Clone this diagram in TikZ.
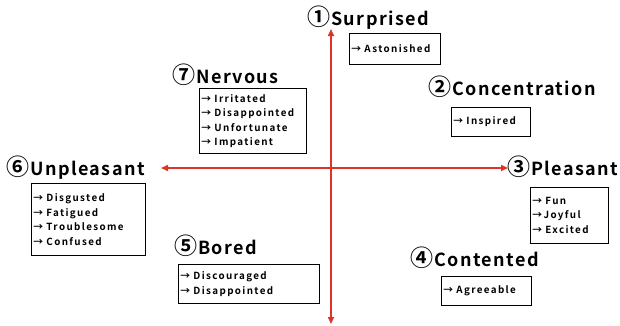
\documentclass[tikz,border=0pt]{standalone}
\usepackage{fontspec}
\usetikzlibrary{arrows.meta}
\newfontfamily\titlefont[LetterSpace=8]{Noto Sans CJK JP Bold}
\newfontfamily\itemfont[LetterSpace=14]{Noto Sans CJK JP Bold}
\newfontfamily\numfont{Noto Sans CJK JP Bold}
\newcommand\qnum[1]{{\numfont\fontsize{23}{20}\selectfont#1}\kern1pt}
\definecolor{axisred}{RGB}{222,52,40}
\tikzset{
  emotion/.style={anchor=base west, inner sep=0pt, font=\titlefont\fontsize{18}{20}\selectfont},
  itembox/.style 2 args={draw, thick, anchor=north west, align=left,
    inner xsep=2pt, inner ysep=0pt, text width=#1-4pt, minimum height=#2,
    font=\itemfont\fontsize{9.8}{14.5}\selectfont},
  axis/.style={draw=axisred, line width=1.6pt, {Triangle[length=7pt,width=6pt]}-{Triangle[length=7pt,width=6pt]}}
}
\begin{document}
\begin{tikzpicture}[x=1pt, y=-1pt]
  \useasboundingbox (0,0) rectangle (620,325);
  % axes
  \coordinate (top) at (331,29);
  \coordinate (bottom) at (331,324);
  \coordinate (left) at (161,168);
  \coordinate (right) at (508,168);
  \draw[axis] (top) -- (bottom);
  \draw[axis] (left) -- (right);
  % quadrant labels
  \node[emotion] (surprised) at (307,25) {\qnum{①}Surprised};
  \node[itembox={91pt}{31pt}] (surprisedList) at (349,33) {→ Astonished};
  \node[emotion] (concentration) at (428,95) {\qnum{②}Concentration};
  \node[itembox={79pt}{29pt}] (concentrationList) at (451,107) {→ Inspired};
  \node[emotion] (pleasant) at (507,175) {\qnum{③}Pleasant};
  \node[itembox={78pt}{56pt}] (pleasantList) at (530,187) {→ Fun\\→Joyful\\→ Excited};
  \node[emotion] (contented) at (410,266) {\qnum{④}Contented};
  \node[itembox={90pt}{29pt}] (contentedList) at (441,276) {→ Agreeable};
  \node[emotion] (bored) at (174,254) {\qnum{⑤}Bored};
  \node[itembox={141pt}{39pt}] (boredList) at (178,264) {→ Discouraged\\→ Disappointed};
  \node[emotion] (unpleasant) at (6,175) {\qnum{⑥}Unpleasant};
  \node[itembox={114pt}{72pt}] (unpleasantList) at (31,183)
    {→ Disgusted\\→ Fatigued\\→ Troublesome\\→ Confused};
  \node[emotion] (nervous) at (172,83) {\qnum{⑦}Nervous};
  \node[itembox={107pt}{65pt}] (nervousList) at (199,88)
    {→ Irritated\\→ Disappointed\\→ Unfortunate\\→ Impatient};
\end{tikzpicture}
\end{document}
